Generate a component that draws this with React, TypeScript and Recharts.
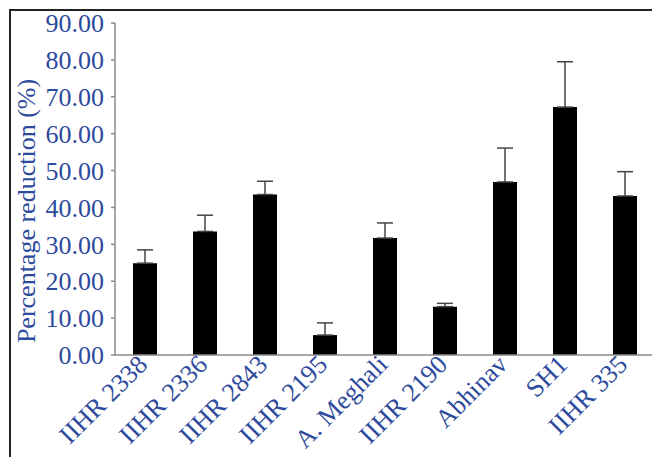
import { BarChart, Bar, XAxis, YAxis, ErrorBar } from 'recharts';

const genotypes = [
  'IIHR 2338',
  'IIHR 2336',
  'IIHR 2843',
  'IIHR 2195',
  'A. Meghali',
  'IIHR 2190',
  'Abhinav',
  'SH1',
  'IIHR 335',
];
const reduction = [24.9, 33.5, 43.5, 5.4, 31.7, 13.1, 46.9, 67.2, 43.1];
const errorUp = [3.6, 4.4, 3.6, 3.3, 4.1, 0.9, 9.2, 12.3, 6.6];
const yTicks = [0, 10, 20, 30, 40, 50, 60, 70, 80, 90];

const data = genotypes.map((name, i) => ({
  name,
  value: reduction[i],
  err: [0, errorUp[i]],
}));

const BLUE = '#2d4a9c';
const FONT = 'Liberation Serif, Times New Roman, Times, serif';

const XTick = (props: any) => {
  const { x, y, payload } = props;
  return (
    <g transform={`translate(${x + 4},${y + 11})`}>
      <text
        textAnchor="end"
        transform="rotate(-45)"
        fill={BLUE}
        fontSize={26}
        style={{ fontFamily: FONT }}
      >
        {payload.value}
      </text>
    </g>
  );
};

const YLabel = () => (
  <text
    x={0}
    y={0}
    transform="translate(35,211) rotate(-90)"
    textAnchor="middle"
    fill={BLUE}
    fontSize={26}
    style={{ fontFamily: FONT }}
  >
    Percentage reduction (%)
  </text>
);

export default function App() {
  return (
    <div
      style={{
        position: 'fixed',
        left: 0,
        top: 0,
        width: 652,
        height: 457,
        overflow: 'hidden',
        background: '#fff',
        fontFamily: FONT,
      }}
    >
      <div
        style={{
          position: 'absolute',
          left: 9,
          top: 9,
          right: -10,
          bottom: -10,
          borderTop: '2px solid #222',
          borderLeft: '2px solid #222',
        }}
      />
      <div style={{ position: 'absolute', left: 0, top: 0 }}>
        <BarChart
          width={680}
          height={457}
          data={data}
          margin={{ top: 23, right: 25, left: 0, bottom: 2 }}
          barCategoryGap={0}
          style={{ fontFamily: FONT }}
        >
          <XAxis
            dataKey="name"
            interval={0}
            height={100}
            tickLine={false}
            tickSize={0}
            tickMargin={0}
            axisLine={{ stroke: '#8a8a8a', strokeWidth: 1.5 }}
            tick={<XTick />}
          />
          <YAxis
            width={115}
            domain={[0, 90]}
            ticks={yTicks}
            interval={0}
            tickSize={4}
            tickMargin={7}
            tickFormatter={(v: number) => v.toFixed(2)}
            axisLine={{ stroke: '#8a8a8a', strokeWidth: 1.5 }}
            tickLine={{ stroke: '#8a8a8a', strokeWidth: 1.5 }}
            tick={{ fill: BLUE, fontSize: 26, style: { fontFamily: FONT } }}
            label={<YLabel />}
          />
          <Bar dataKey="value" fill="#000" barSize={24} isAnimationActive={false}>
            <ErrorBar
              dataKey="err"
              direction="y"
              width={8}
              stroke="#444"
              strokeWidth={1.5}
              isAnimationActive={false}
            />
          </Bar>
        </BarChart>
      </div>
    </div>
  );
}
